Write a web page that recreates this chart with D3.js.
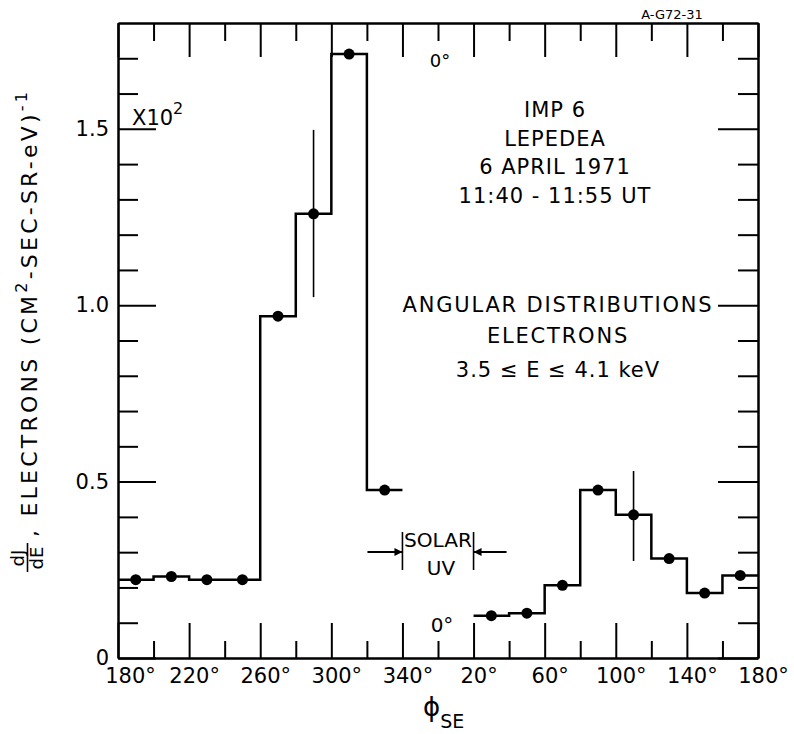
<!DOCTYPE html>
<html>
<head>
<meta charset="utf-8">
<script src="https://cdn.jsdelivr.net/npm/d3@7"></script>
<style>
  body { margin: 0; background: #fff; }
  svg text { font-family: "DejaVu Sans", sans-serif; fill: #000; }
</style>
</head>
<body>
<script>
// bin centres (deg) and dJ/dE values (x10^2)
var leftAngles = [190, 210, 230, 250, 270, 290, 310, 330];
var leftValues = [0.222, 0.231, 0.222, 0.222, 0.969, 1.259, 1.712, 0.476];
var rightAngles = [30, 50, 70, 90, 110, 130, 150, 170];
var rightValues = [0.120, 0.127, 0.206, 0.476, 0.406, 0.282, 0.184, 0.234];
var errAngles = [290, 110];
var errLow = [1.023, 0.275];
var errHigh = [1.497, 0.530];
var xMajorTicks = [180, 220, 260, 300, 340, 20, 60, 100, 140, 180];
var xMinorTicks = [200, 240, 280, 320, 0, 40, 80, 120, 160];
var yMajorTicks = [0, 0.5, 1.0, 1.5];
var solarUV = [340, 20];
var titleLines = ["IMP 6", "LEPEDEA", "6 APRIL 1971", "11:40 - 11:55 UT"];
var infoLines = ["ANGULAR DISTRIBUTIONS", "ELECTRONS", "3.5 \u2264 E \u2264 4.1 keV"];

var width = 794, height = 734;
var plotLeft = 118, plotRight = 758, plotTop = 23, plotBottom = 658;
var binWidth = 20;

// angles run 180 -> 360 -> 180, so unwrap onto 180..540
function unwrapList(list) {
  var out = [], prev = -1;
  list.forEach(function (a) {
    var v = a;
    while (v < prev || v < 180) v += 360;
    out.push(v);
    prev = v;
  });
  return out;
}
function unwrap(a) { return a < 180 ? a + 360 : a; }

var x = d3.scaleLinear().domain([180, 540]).range([plotLeft, plotRight]);
var y = d3.scaleLinear().domain([0, 1.8]).range([plotBottom, plotTop]);

var svg = d3.select("body").append("svg")
  .attr("width", width)
  .attr("height", height);

function styleAxis(g) {
  g.attr("font-size", null).attr("font-family", null);
  g.select(".domain").attr("stroke", "#000").attr("stroke-width", 2);
  g.selectAll(".tick line").attr("stroke", "#000").attr("stroke-width", 2);
}

var xMajorPos = unwrapList(xMajorTicks);
var xMinorPos = unwrapList(xMinorTicks);
var yMinor = d3.range(1, 18).map(function (i) { return i / 10; })
  .filter(function (v) { return Math.abs(v * 2 - Math.round(v * 2)) > 1e-6; });

// bottom
svg.append("g")
  .attr("transform", `translate(0, ${plotBottom})`)
  .call(d3.axisBottom(x).tickValues(xMajorPos).tickSizeInner(-35).tickSizeOuter(0)
    .tickPadding(10).tickFormat(function (d, i) { return xMajorTicks[i] + "\u00b0"; }))
  .call(styleAxis)
  .selectAll("text")
  .attr("font-size", 21)
  .attr("dx", function (d, i) { return i === 0 ? 12 : 5; });
svg.append("g")
  .attr("transform", `translate(0, ${plotBottom})`)
  .call(d3.axisBottom(x).tickValues(xMinorPos).tickSizeInner(-17).tickSizeOuter(0).tickFormat(""))
  .call(styleAxis);

// top
svg.append("g")
  .attr("transform", `translate(0, ${plotTop})`)
  .call(d3.axisTop(x).tickValues(xMajorPos).tickSizeInner(-34).tickSizeOuter(0).tickFormat(""))
  .call(styleAxis);
svg.append("g")
  .attr("transform", `translate(0, ${plotTop})`)
  .call(d3.axisTop(x).tickValues(xMinorPos).tickSizeInner(-18).tickSizeOuter(0).tickFormat(""))
  .call(styleAxis);

// left
svg.append("g")
  .attr("transform", `translate(${plotLeft}, 0)`)
  .call(d3.axisLeft(y).tickValues(yMajorTicks).tickSizeInner(-38).tickSizeOuter(0)
    .tickPadding(9).tickFormat(function (d) { return d === 0 ? "0" : d3.format(".1f")(d); }))
  .call(styleAxis)
  .selectAll("text").attr("font-size", 21);
svg.append("g")
  .attr("transform", `translate(${plotLeft}, 0)`)
  .call(d3.axisLeft(y).tickValues(yMinor).tickSizeInner(-20).tickSizeOuter(0).tickFormat(""))
  .call(styleAxis);

// right
svg.append("g")
  .attr("transform", `translate(${plotRight}, 0)`)
  .call(d3.axisRight(y).tickValues(yMajorTicks).tickSizeInner(-40).tickSizeOuter(0).tickFormat(""))
  .call(styleAxis);
svg.append("g")
  .attr("transform", `translate(${plotRight}, 0)`)
  .call(d3.axisRight(y).tickValues(yMinor).tickSizeInner(-20).tickSizeOuter(0).tickFormat(""))
  .call(styleAxis);

// histogram steps
function stepPoints(angles, values) {
  var pts = [];
  angles.forEach(function (a, i) {
    var c = unwrap(a);
    pts.push([c - binWidth / 2, values[i]]);
    pts.push([c + binWidth / 2, values[i]]);
  });
  return pts;
}
var line = d3.line()
  .x(function (d) { return x(d[0]); })
  .y(function (d) { return y(d[1]); });

[[leftAngles, leftValues], [rightAngles, rightValues]].forEach(function (s) {
  svg.append("path")
    .attr("d", line(stepPoints(s[0], s[1])))
    .attr("fill", "none")
    .attr("stroke", "#000")
    .attr("stroke-width", 2.5)
    .attr("stroke-linejoin", "miter");
  svg.selectAll(null)
    .data(s[0])
    .enter()
    .append("circle")
    .attr("cx", function (d) { return x(unwrap(d)); })
    .attr("cy", function (d, i) { return y(s[1][i]); })
    .attr("r", 5.5)
    .attr("fill", "#000");
});

// error bars
svg.selectAll(null)
  .data(errAngles)
  .enter()
  .append("line")
  .attr("x1", function (d) { return x(unwrap(d)); })
  .attr("x2", function (d) { return x(unwrap(d)); })
  .attr("y1", function (d, i) { return y(errLow[i]); })
  .attr("y2", function (d, i) { return y(errHigh[i]); })
  .attr("stroke", "#000")
  .attr("stroke-width", 1.6);

// solar UV bracket
var uvL = x(unwrap(solarUV[0])), uvR = x(unwrap(solarUV[1]));
var uvY = 552;
svg.append("defs").append("marker")
  .attr("id", "ah")
  .attr("viewBox", "0 0 10 10")
  .attr("refX", 10).attr("refY", 5)
  .attr("markerWidth", 13).attr("markerHeight", 8)
  .attr("markerUnits", "userSpaceOnUse")
  .attr("orient", "auto")
  .append("path").attr("d", "M0,0L10,5L0,10z").attr("fill", "#000");
[[uvL - 35, uvL], [uvR + 33, uvR]].forEach(function (a) {
  svg.append("line")
    .attr("x1", a[0]).attr("x2", a[1]).attr("y1", uvY).attr("y2", uvY)
    .attr("stroke", "#000").attr("stroke-width", 2)
    .attr("marker-end", "url(#ah)");
});
[uvL, uvR].forEach(function (v) {
  svg.append("line")
    .attr("x1", v).attr("x2", v).attr("y1", 532).attr("y2", 570)
    .attr("stroke", "#000").attr("stroke-width", 1.6);
});
svg.append("text").attr("x", (uvL + uvR) / 2).attr("y", 547)
  .attr("text-anchor", "middle").attr("font-size", 20).attr("textLength", 68)
  .attr("lengthAdjust", "spacingAndGlyphs").text("SOLAR");
svg.append("text").attr("x", (uvL + uvR) / 2 + 3).attr("y", 575)
  .attr("text-anchor", "middle").attr("font-size", 20).text("UV");

// 0 deg markers
svg.append("text").attr("x", x(360) + 2).attr("y", 67)
  .attr("text-anchor", "middle").attr("font-size", 18).text("0\u00b0");
svg.append("text").attr("x", x(360) + 4).attr("y", 632)
  .attr("text-anchor", "middle").attr("font-size", 20).text("0\u00b0");

// labels in plot
var tt = svg.append("text").attr("text-anchor", "middle").attr("font-size", 21)
  .attr("letter-spacing", 1);
titleLines.forEach(function (t, i) {
  tt.append("tspan").attr("x", 555).attr("y", 117 + i * 28.5).text(t);
});
var it = svg.append("text").attr("text-anchor", "middle").attr("font-size", 21)
  .attr("letter-spacing", 1.8);
infoLines.forEach(function (t, i) {
  it.append("tspan").attr("x", 558).attr("y", [312, 343, 377][i])
    .attr("letter-spacing", i === 2 ? 1 : null).text(t);
});

svg.append("text").attr("x", 672).attr("y", 19).attr("text-anchor", "middle")
  .attr("font-size", 13).text("A-G72-31");

var mult = svg.append("text").attr("x", 132).attr("y", 125).attr("font-size", 21);
mult.append("tspan").text("X10");
mult.append("tspan").attr("dy", -11).attr("font-size", 16).text("2");

// x title
var xt = svg.append("text").attr("x", 423).attr("y", 716).attr("font-size", 26);
xt.append("tspan").text("\u03d5");
xt.append("tspan").attr("dy", 12).attr("font-size", 19).text("SE");

// y title (rotated)
var yt = svg.append("g").attr("transform", "translate(37, 573) rotate(-90)");
yt.append("text").attr("x", 15).attr("y", -13).attr("text-anchor", "middle")
  .attr("font-size", 18).text("dJ");
yt.append("line").attr("x1", 1).attr("x2", 30).attr("y1", -9.5).attr("y2", -9.5)
  .attr("stroke", "#000").attr("stroke-width", 1.6);
yt.append("text").attr("x", 15).attr("y", 6).attr("text-anchor", "middle")
  .attr("font-size", 18).text("dE");
var ym = yt.append("text").attr("x", 36).attr("y", 0).attr("font-size", 22)
  .attr("textLength", 445).attr("lengthAdjust", "spacing");
ym.append("tspan").text(", ELECTRONS (CM");
ym.append("tspan").attr("dy", -10).attr("font-size", 16).text("2");
ym.append("tspan").attr("dy", 10).text("-SEC-SR-eV)");
ym.append("tspan").attr("dy", -10).attr("font-size", 16).text("-1");
</script>
</body>
</html>
